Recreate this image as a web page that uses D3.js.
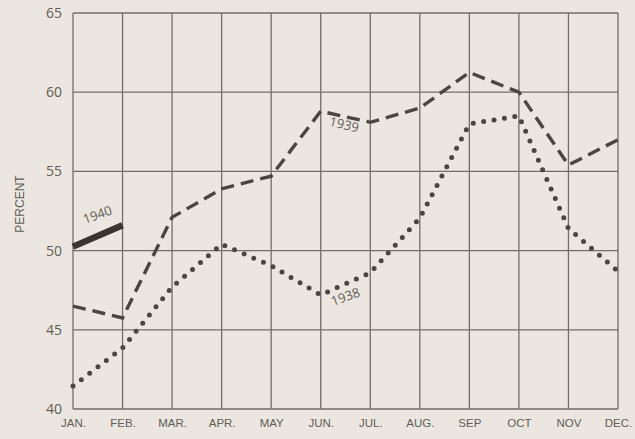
<!DOCTYPE html>
<html><head><meta charset="utf-8">
<script src="https://cdn.jsdelivr.net/npm/d3@7"></script>
<style>
html,body{margin:0;padding:0;background:#ebe6df;}
svg{display:block;}
</style></head>
<body>
<svg id="c" width="635" height="439"></svg>
<script>
const months = ["JAN.","FEB.","MAR.","APR.","MAY","JUN.","JUL.","AUG.","SEP","OCT","NOV","DEC."];
const yTicks = [40,45,50,55,60,65];
const s1938 = [41.45,43.85,47.7,50.4,49.05,47.2,48.6,52.05,58.0,58.5,51.4,48.7];
const s1939 = [46.5,45.75,52.1,53.9,54.7,58.8,58.1,59.0,61.25,60.0,55.4,57.0];
const s1940 = [50.25,51.6];
const seriesLabels = ["1938","1939","1940"];

const svg = d3.select("#c");
const L=73, R=618, T=13, B=409;
const x = d3.scalePoint().domain(months).range([L,R]);
const y = d3.scaleLinear().domain([40,65]).range([B,T]);
const ink="#4b4641", grid="#746e68", txt="#625d57";

svg.append("rect").attr("width",635).attr("height",439).attr("fill","#ebe6df");

// grid
const g = svg.append("g");
g.selectAll("line.v").data(months).join("line")
  .attr("x1",d=>x(d)).attr("x2",d=>x(d)).attr("y1",T).attr("y2",B)
  .attr("stroke",grid).attr("stroke-width",1.3);
g.selectAll("line.h").data(yTicks).join("line")
  .attr("x1",L).attr("x2",R).attr("y1",d=>y(d)).attr("y2",d=>y(d))
  .attr("stroke",grid).attr("stroke-width",1.3);

// axes (labels only)
const yAx = d3.axisLeft(y).tickValues(yTicks).tickSize(0).tickPadding(11);
svg.append("g").attr("transform",`translate(${L},0)`).call(yAx)
  .call(a=>a.select(".domain").remove())
  .selectAll("text").attr("fill",txt).attr("font-size",14)
  .attr("font-family","'Open Sans',sans-serif");
const xAx = d3.axisBottom(x).tickSize(0).tickPadding(10);
svg.append("g").attr("transform",`translate(0,${B})`).call(xAx)
  .call(a=>a.select(".domain").remove())
  .selectAll("text").attr("fill",txt).attr("font-size",11.5)
  .attr("font-family","'Liberation Sans Narrow','Liberation Sans',sans-serif");

svg.append("text").attr("transform","translate(24,204) rotate(-90)")
  .attr("text-anchor","middle").attr("fill",txt).attr("font-size",12)
  .attr("font-family","'Liberation Sans',sans-serif").text("PERCENT");

const line = d3.line().x((d,i)=>x(months[i])).y(d=>y(d));

svg.append("path").datum(s1939).attr("d",line).attr("fill","none")
  .attr("stroke",ink).attr("stroke-width",3.4).attr("stroke-dasharray","13,7");
svg.append("path").datum(s1938).attr("d",line).attr("fill","none")
  .attr("stroke",ink).attr("stroke-width",5).attr("stroke-linecap","round")
  .attr("stroke-dasharray","0,10.5");
svg.append("path").datum(s1940).attr("d",line).attr("fill","none")
  .attr("stroke","#3a3531").attr("stroke-width",6.5);

const lab = (t,px,py,rot)=>svg.append("text")
  .attr("transform",`translate(${px},${py}) rotate(${rot})`)
  .attr("text-anchor","middle").attr("fill",txt).attr("font-size",13)
  .attr("font-family","'Open Sans',sans-serif").text(t);
lab(seriesLabels[2],99,219,-20);
lab(seriesLabels[1],343,129,14);
lab(seriesLabels[0],347,301,-20);
</script>
</body></html>
